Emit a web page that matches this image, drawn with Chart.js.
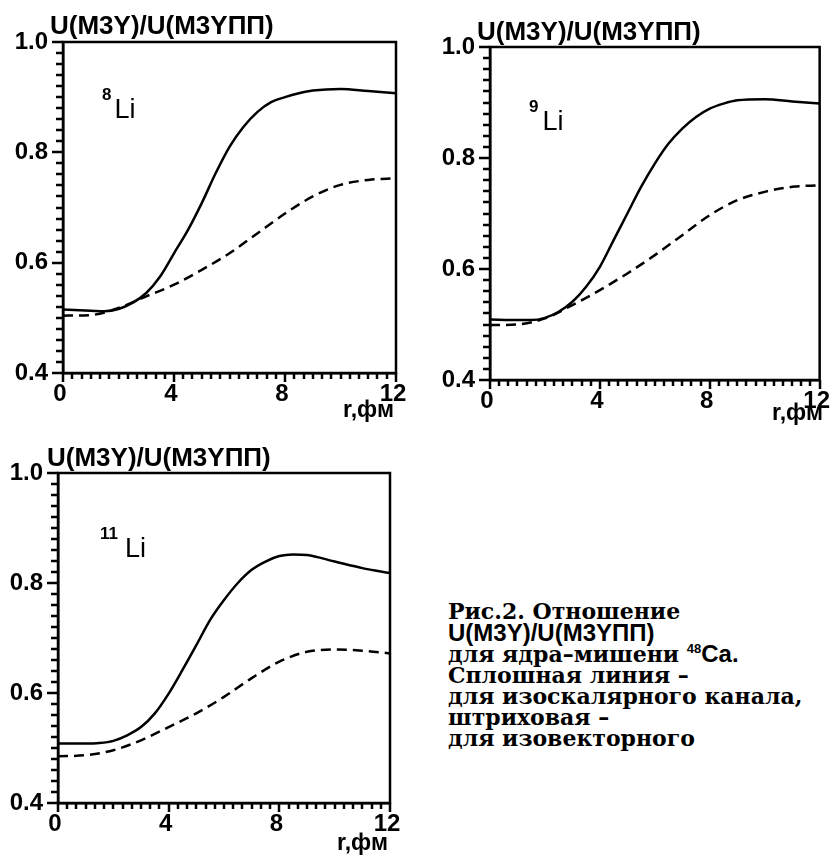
<!DOCTYPE html>
<html lang="ru">
<head>
<meta charset="utf-8">
<title>U(M3Y)/U(M3YПП)</title>
<script src="https://cdn.jsdelivr.net/npm/chart.js@4.4.1/dist/chart.umd.min.js"></script>
<style>
  html, body { margin: 0; padding: 0; background: #fff; }
  body {
    width: 832px; height: 857px; position: relative; overflow: hidden;
    font-family: "Liberation Sans", Arial, sans-serif; color: #000;
  }
  canvas { position: absolute; }
  .title { position: absolute; font-weight: bold; font-size: 26px; line-height: 26px; white-space: nowrap; }
  .unit { position: absolute; font-weight: bold; font-size: 23px; line-height: 23px; white-space: nowrap; }
  .nucleus { position: absolute; font-size: 27px; line-height: 26px; white-space: nowrap; }
  .nucleus sup { font-size: 17px; font-weight: bold; line-height: 0; vertical-align: baseline; position: relative; top: -18px; }
  .caption {
    position: absolute; left: 448px; top: 601px;
    font-family: "DejaVu Serif", serif; font-weight: bold; font-size: 22px; line-height: 21px;
    white-space: nowrap;
  }
  .caption .sans { font-family: "Liberation Sans", Arial, sans-serif; font-size: 24px; }
  .caption sup { font-size: 13px; line-height: 0; vertical-align: baseline; position: relative; top: -9px; font-family: "Liberation Sans", Arial, sans-serif; }
</style>
</head>
<body>

<canvas id="chartLi8"></canvas>
<canvas id="chartLi9"></canvas>
<canvas id="chartLi11"></canvas>

<div class="title" style="left:50px; top:12px;">U(M3Y)/U(M3YПП)</div>
<div class="title" style="left:477px; top:18px;">U(M3Y)/U(M3YПП)</div>
<div class="title" style="left:47px; top:444px;">U(M3Y)/U(M3YПП)</div>

<div class="unit" style="left:343px; top:398px;">r,фм</div>
<div class="unit" style="left:772px; top:401px;">r,фм</div>
<div class="unit" style="left:337px; top:831px;">r,фм</div>

<div class="nucleus" style="left:102px; top:96px;"><sup style="margin-right:3px;">8</sup>Li</div>
<div class="nucleus" style="left:529px; top:108px;"><sup style="margin-right:4px;">9</sup>Li</div>
<div class="nucleus" style="left:100px; top:535px;"><sup style="margin-right:7px;">11</sup>Li</div>

<div class="caption">
  <div>Рис.2. Отношение</div>
  <div class="sans">U(M3Y)/U(M3YПП)</div>
  <div>для ядра–мишени <sup>48</sup><span class="sans">Ca.</span></div>
  <div>Сплошная линия –</div>
  <div>для изоскалярного канала,</div>
  <div>штриховая –</div>
  <div>для изовекторного</div>
</div>

<script>
// ===================================
// Data
// ===================================
const rSolid = [0, 1, 1.5, 2, 2.5, 3, 3.5, 4, 4.5, 5, 5.5, 6, 6.5, 7, 7.5, 8, 8.5, 9, 10, 11, 12];
const rDash = [0, 1, 2, 3, 4, 5, 6, 7, 8, 9, 10, 11, 12];

// 8Li
const li8Solid = [0.515, 0.513, 0.512, 0.516, 0.527, 0.545, 0.575, 0.617, 0.659, 0.708, 0.762, 0.81, 0.846, 0.873, 0.891, 0.9, 0.907, 0.912, 0.915, 0.911, 0.907];
const li8Dash = [0.504, 0.505, 0.518, 0.539, 0.56, 0.587, 0.617, 0.653, 0.689, 0.72, 0.741, 0.75, 0.753];

// 9Li
const li9Solid = [0.509, 0.508, 0.508, 0.512, 0.523, 0.541, 0.568, 0.604, 0.652, 0.7, 0.748, 0.79, 0.826, 0.853, 0.874, 0.889, 0.898, 0.904, 0.906, 0.902, 0.898];
const li9Dash = [0.499, 0.5, 0.511, 0.535, 0.562, 0.592, 0.625, 0.661, 0.697, 0.724, 0.739, 0.748, 0.751];

// 11Li
const li11Solid = [0.508, 0.508, 0.509, 0.513, 0.523, 0.538, 0.563, 0.599, 0.642, 0.687, 0.733, 0.769, 0.8, 0.824, 0.839, 0.849, 0.852, 0.851, 0.839, 0.827, 0.818];
const li11Dash = [0.485, 0.487, 0.496, 0.514, 0.538, 0.563, 0.593, 0.627, 0.657, 0.675, 0.679, 0.677, 0.672];

// Axes
const xMajor = [0, 4, 8, 12];
const xTickLabels = ["0", "4", "8", "12"];
const yMajor = [0.4, 0.6, 0.8, 1.0];
const yTickLabels = ["0.4", "0.6", "0.8", "1.0"];
const xMinorPerMajor = 12;
const yMinorPerMajor = 10;

// ===================================
// Helpers
// ===================================
function minorTicks(majors, perMajor) {
  const ticks = [];
  const step = (majors[1] - majors[0]) / perMajor;
  const count = (majors.length - 1) * perMajor;
  for (let k = 0; k <= count; k++) {
    ticks.push({ value: majors[0] + k * step, major: k % perMajor === 0 });
  }
  return ticks;
}

function labelFor(value, majors, labels) {
  const i = majors.findIndex((m) => Math.abs(m - value) < 1e-6);
  return i >= 0 ? labels[i] : "";
}

function toPoints(xs, ys) {
  return xs.map((x, i) => ({ x: x, y: ys[i] }));
}

// tick marks (from the scales' own ticks) and the box round the plot
const framePlugin = {
  id: "frame",
  afterDraw(chart) {
    const { ctx, chartArea: a, scales } = chart;
    ctx.save();
    ctx.strokeStyle = "#000";
    ctx.lineWidth = 2.5;
    ctx.beginPath();
    scales.x.ticks.forEach((t) => {
      const px = Math.round(scales.x.getPixelForValue(t.value));
      ctx.moveTo(px, a.bottom);
      ctx.lineTo(px, a.bottom + (t.major ? 9 : 6));
    });
    scales.y.ticks.forEach((t) => {
      const py = Math.round(scales.y.getPixelForValue(t.value));
      ctx.moveTo(a.left, py);
      ctx.lineTo(a.left - (t.major ? 11 : 7), py);
    });
    ctx.stroke();

    ctx.strokeRect(a.left, a.top, a.right - a.left, a.bottom - a.top);
    ctx.restore();
  },
};

const tickFont = { family: "'Liberation Sans', Arial, sans-serif", size: 24, weight: "bold" };

// ===================================
// Build one panel
// ===================================
function buildPanel(id, frame, solidVals, dashVals) {
  const canvas = document.getElementById(id);
  canvas.width = frame.w;
  canvas.height = frame.h;
  canvas.style.left = frame.x + "px";
  canvas.style.top = frame.y + "px";

  const yWidth = frame.left - frame.x;
  const xHeight = frame.y + frame.h - frame.bottom;

  return new Chart(canvas.getContext("2d"), {
    type: "line",
    data: {
      datasets: [
        {
          label: "изоскалярный канал",
          data: toPoints(rSolid, solidVals),
          borderColor: "#000",
          borderWidth: 2.5,
          pointRadius: 0,
          cubicInterpolationMode: "monotone",
          fill: false,
        },
        {
          label: "изовекторный канал",
          data: toPoints(rDash, dashVals),
          borderColor: "#000",
          borderWidth: 2.5,
          borderDash: [10, 6],
          pointRadius: 0,
          cubicInterpolationMode: "monotone",
          fill: false,
        },
      ],
    },
    options: {
      responsive: false,
      maintainAspectRatio: false,
      animation: false,
      layout: {
        padding: {
          left: 0,
          top: frame.top - frame.y,
          right: frame.x + frame.w - frame.right,
          bottom: 0,
        },
      },
      plugins: {
        legend: { display: false },
        tooltip: { enabled: false },
      },
      scales: {
        x: {
          type: "linear",
          min: 0,
          max: 12,
          afterBuildTicks: (scale) => {
            scale.ticks = minorTicks(xMajor, xMinorPerMajor);
          },
          afterFit: (scale) => {
            scale.height = xHeight;
          },
          ticks: {
            autoSkip: false,
            maxRotation: 0,
            padding: 7,
            labelOffset: -3,
            color: "#000",
            font: tickFont,
            callback: (value) => labelFor(value, xMajor, xTickLabels),
          },
          grid: { display: false, drawTicks: false },
          border: { color: "#000", width: 2.5 },
        },
        y: {
          type: "linear",
          min: 0.4,
          max: 1.0,
          afterBuildTicks: (scale) => {
            scale.ticks = minorTicks(yMajor, yMinorPerMajor);
          },
          afterFit: (scale) => {
            scale.width = yWidth;
          },
          ticks: {
            autoSkip: false,
            padding: 15,
            color: "#000",
            font: tickFont,
            callback: (value) => labelFor(value, yMajor, yTickLabels),
          },
          grid: { display: false, drawTicks: false },
          border: { color: "#000", width: 2.5 },
        },
      },
    },
    plugins: [framePlugin],
  });
}

// ===================================
// Init
// ===================================
document.addEventListener("DOMContentLoaded", function () {
  buildPanel("chartLi8", { x: 0, y: 0, w: 420, h: 430, left: 63, top: 42, right: 396, bottom: 373 }, li8Solid, li8Dash);
  buildPanel("chartLi9", { x: 420, y: 0, w: 420, h: 430, left: 490, top: 47, right: 823, bottom: 380 }, li9Solid, li9Dash);
  buildPanel("chartLi11", { x: 0, y: 430, w: 420, h: 427, left: 58, top: 473, right: 390, bottom: 803 }, li11Solid, li11Dash);
});
</script>
</body>
</html>
